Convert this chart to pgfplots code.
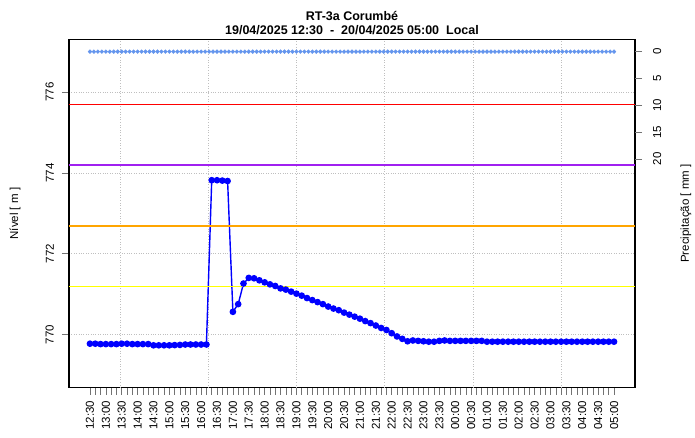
\documentclass[border=0pt]{standalone}
\usepackage{fontspec}
\setmainfont{Liberation Sans}
\usepackage{pgfplots}
\usepackage{pgfplotstable}
\pgfplotsset{compat=1.18}

\definecolor{nivelblue}{HTML}{0000FF}
\definecolor{chuvablue}{HTML}{6495ED}
\definecolor{thrred}{HTML}{FF0000}
\definecolor{thrpurple}{HTML}{A020F0}
\definecolor{throrange}{HTML}{FFA500}
\definecolor{thryellow}{HTML}{FFFF00}

% minutes after 19/04 12:30, level in m
\pgfplotstableread{
t v
0 769.77
10 769.77
20 769.76
30 769.76
40 769.76
50 769.76
60 769.77
70 769.77
80 769.76
90 769.76
100 769.76
110 769.76
120 769.73
130 769.73
140 769.73
150 769.73
160 769.735
170 769.74
180 769.75
190 769.75
200 769.75
210 769.75
220 769.75
230 773.82
240 773.82
250 773.81
260 773.80
270 770.56
280 770.75
290 771.26
300 771.40
310 771.39
320 771.34
330 771.29
340 771.24
350 771.20
360 771.14
370 771.11
380 771.06
390 771.01
400 770.96
410 770.90
420 770.85
430 770.80
440 770.75
450 770.69
460 770.64
470 770.60
480 770.54
490 770.49
500 770.44
510 770.39
520 770.33
530 770.28
540 770.22
550 770.16
560 770.11
570 770.03
580 769.95
590 769.89
600 769.83
610 769.85
620 769.84
630 769.83
640 769.82
650 769.82
660 769.84
670 769.85
680 769.84
690 769.84
700 769.84
710 769.84
720 769.84
730 769.84
740 769.84
750 769.82
760 769.82
770 769.82
780 769.82
790 769.82
800 769.82
810 769.82
820 769.82
830 769.82
840 769.82
850 769.82
860 769.82
870 769.82
880 769.82
890 769.82
900 769.82
910 769.82
920 769.82
930 769.82
940 769.82
950 769.82
960 769.82
970 769.82
980 769.82
990 769.82
}\nivel

\begin{document}
\begin{tikzpicture}
\pgfplotsset{base/.style={
  scale only axis, width=566pt, height=348.4pt,
  xmin=-39.6, xmax=1029.6,
  tick align=outside, major tick length=7pt, minor tick length=7pt,
  tick style={black!55, line width=0.6pt},
  ticklabel style={font=\fontsize{11.5}{13}\selectfont},
  clip=true,
}}
\begin{axis}[base,
  ymin=768.68, ymax=777.31,
  axis line style={black, line width=1.2pt},
  xtick={0,30,...,990}, minor x tick num=2,
  xticklabels={12:30,13:00,13:30,14:00,14:30,15:00,15:30,16:00,16:30,17:00,17:30,18:00,18:30,19:00,19:30,20:00,20:30,21:00,21:30,22:00,22:30,23:00,23:30,00:00,00:30,01:00,01:30,02:00,02:30,03:00,03:30,04:00,04:30,05:00},
  xticklabel style={rotate=90, anchor=east, inner xsep=6pt},
  xtick pos=bottom, ytick pos=left,
  xmajorgrids=false, xminorgrids=false, ymajorgrids=true,
  ytick={770,772,774,776}, yticklabels={770,772,774,776},
  yticklabel style={rotate=90, anchor=south, inner ysep=8pt},
  grid style={dotted, black!25, line width=0.6pt},
  every axis y label/.style={at={(axis description cs:-0.0954,0.5)}, rotate=90, anchor=center, font=\fontsize{11.5}{13}\selectfont},
  ylabel={Nível [ m ]},
  title={RT-3a Corumbé\\19/04/2025 12:30 \ - \ 20/04/2025 05:00 \ Local},
  title style={font=\bfseries\fontsize{12.5}{14}\selectfont, align=center,
    at={(axis description cs:0.5,1)}, anchor=south, inner sep=0pt, yshift=-1.5pt},
]
% vertical grid (R pretty() steps of 10000 s)
\addplot[dotted, black!25, line width=0.6pt, no marks, forget plot] coordinates {(56.67,768.68) (56.67,777.31)};
\addplot[dotted, black!25, line width=0.6pt, no marks, forget plot] coordinates {(223.33,768.68) (223.33,777.31)};
\addplot[dotted, black!25, line width=0.6pt, no marks, forget plot] coordinates {(390,768.68) (390,777.31)};
\addplot[dotted, black!25, line width=0.6pt, no marks, forget plot] coordinates {(556.67,768.68) (556.67,777.31)};
\addplot[dotted, black!25, line width=0.6pt, no marks, forget plot] coordinates {(723.33,768.68) (723.33,777.31)};
\addplot[dotted, black!25, line width=0.6pt, no marks, forget plot] coordinates {(890,768.68) (890,777.31)};
\addplot[nivelblue, line width=1.4pt, mark=*, mark size=2.6pt] table[x=t, y=v] {\nivel};
\addplot[draw=thrred, line width=1.5pt, no marks] coordinates {(-39.6,775.69) (1029.6,775.69)};
\addplot[draw=thrpurple, line width=1.5pt, no marks] coordinates {(-39.6,774.20) (1029.6,774.20)};
\addplot[draw=throrange, line width=1.5pt, no marks] coordinates {(-39.6,772.69) (1029.6,772.69)};
\addplot[draw=thryellow, line width=1.5pt, no marks] coordinates {(-39.6,771.19) (1029.6,771.19)};
\end{axis}
\begin{axis}[base,
  ymin=-2.3, ymax=62.7, y dir=reverse,
  axis x line=none, axis y line*=right,
  y axis line style={draw=none},
  ytick={0,5,10,15,20}, yticklabels={0,5,10,15,20},
  yticklabel style={rotate=90, anchor=north, inner ysep=11pt},
  every axis y label/.style={at={(axis description cs:1.090,0.5)}, rotate=90, anchor=center, font=\fontsize{11.5}{13}\selectfont},
  ylabel={Precipitação [ mm ]},
]
\addplot[chuvablue, only marks, mark=*, mark size=1.9pt] coordinates {
(0,0)(7.5,0)(15,0)(22.5,0)(30,0)(37.5,0)(45,0)(52.5,0)
(60,0)(67.5,0)(75,0)(82.5,0)(90,0)(97.5,0)(105,0)(112.5,0)
(120,0)(127.5,0)(135,0)(142.5,0)(150,0)(157.5,0)(165,0)(172.5,0)
(180,0)(187.5,0)(195,0)(202.5,0)(210,0)(217.5,0)(225,0)(232.5,0)
(240,0)(247.5,0)(255,0)(262.5,0)(270,0)(277.5,0)(285,0)(292.5,0)
(300,0)(307.5,0)(315,0)(322.5,0)(330,0)(337.5,0)(345,0)(352.5,0)
(360,0)(367.5,0)(375,0)(382.5,0)(390,0)(397.5,0)(405,0)(412.5,0)
(420,0)(427.5,0)(435,0)(442.5,0)(450,0)(457.5,0)(465,0)(472.5,0)
(480,0)(487.5,0)(495,0)(502.5,0)(510,0)(517.5,0)(525,0)(532.5,0)
(540,0)(547.5,0)(555,0)(562.5,0)(570,0)(577.5,0)(585,0)(592.5,0)
(600,0)(607.5,0)(615,0)(622.5,0)(630,0)(637.5,0)(645,0)(652.5,0)
(660,0)(667.5,0)(675,0)(682.5,0)(690,0)(697.5,0)(705,0)(712.5,0)
(720,0)(727.5,0)(735,0)(742.5,0)(750,0)(757.5,0)(765,0)(772.5,0)
(780,0)(787.5,0)(795,0)(802.5,0)(810,0)(817.5,0)(825,0)(832.5,0)
(840,0)(847.5,0)(855,0)(862.5,0)(870,0)(877.5,0)(885,0)(892.5,0)
(900,0)(907.5,0)(915,0)(922.5,0)(930,0)(937.5,0)(945,0)(952.5,0)
(960,0)(967.5,0)(975,0)(982.5,0)(990,0)
};
\end{axis}
\pgfresetboundingbox
\path (-69pt,-49.3pt) rectangle (626pt,387.7pt);
\end{tikzpicture}
\end{document}
